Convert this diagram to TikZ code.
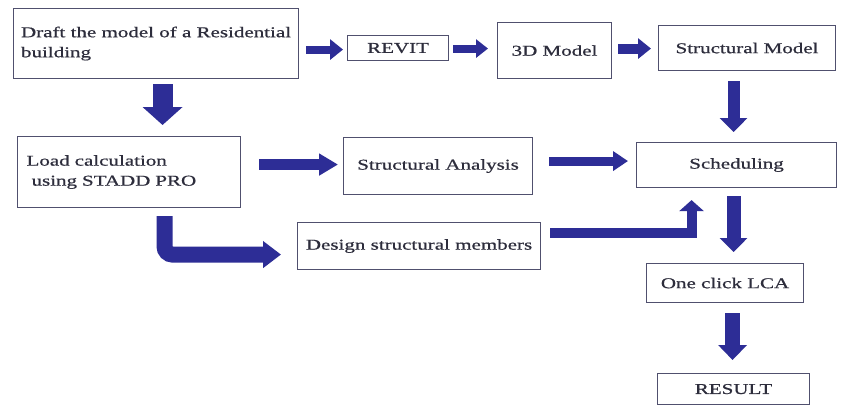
\documentclass[tikz,border=0pt]{standalone}
\usepackage{fontspec}
\setmainfont[FakeStretch=1.4, FakeBold=0.7]{Liberation Serif}
\usetikzlibrary{arrows.meta,calc}
\definecolor{arrowblue}{RGB}{45,45,150}
\definecolor{boxline}{RGB}{80,80,110}
\definecolor{txt}{RGB}{45,45,60}
\begin{document}
\begin{tikzpicture}[x=1pt,y=-1pt,
  box/.style={draw=boxline, line width=1.1pt, fill=white, text=txt,
    font=\fontsize{15}{20}\selectfont, anchor=north west, inner sep=0pt},
  blk/.style={draw=arrowblue, line width=#1, line join=miter}]
\fill[white] (0,0) rectangle (843,405);
\useasboundingbox (0,0) rectangle (843,405);

\node[box, minimum width=285pt, minimum height=70pt, align=left] (draft) at (13,8) {Draft the model of a Residential\\building};
\node[box, minimum width=101pt, minimum height=25pt] (revit) at (347,35) {REVIT};
\node[box, minimum width=114pt, minimum height=56pt] (m3d) at (497,22) {3D Model};
\node[box, minimum width=177pt, minimum height=45pt] (smodel) at (658,25) {Structural Model};
\node[box, minimum width=223pt, minimum height=71pt, align=left, text width=205pt, inner xsep=9pt] (load) at (17,136) {Load calculation\\\hspace*{5pt}using STADD PRO};
\node[box, minimum width=189pt, minimum height=57pt] (anal) at (343,137) {Structural Analysis};
\node[box, minimum width=200pt, minimum height=45pt] (sched) at (636,142) {Scheduling};
\node[box, minimum width=243pt, minimum height=47pt] (design) at (297,222) {Design structural members};
\node[box, minimum width=157pt, minimum height=39pt] (lca) at (646,263) {One click LCA};
\node[box, minimum width=152pt, minimum height=31pt] (result) at (657,373) {RESULT};

% top row arrows
\draw[blk=8pt, -{Triangle[width=20pt,length=13pt]}] ($(draft.east |- revit.west)+(7,1.5)$) -- ($(revit.west)+(-4,1.5)$);
\draw[blk=8pt, -{Triangle[width=18pt,length=12pt]}] ($(revit.east)+(4,0.5)$) -- ($(m3d.west |- revit.east)+(-9,0.5)$);
\draw[blk=10pt, -{Triangle[width=20pt,length=13pt]}] ($(m3d.east)+(6,-2)$) -- ($(smodel.west |- m3d.east)+(-7,-2)$);
% vertical arrows
\draw[blk=20pt, -{Triangle[width=39pt,length=18pt]}] ($(draft.south)+(6.5,5)$) -- ($(draft.south |- load.north)+(6.5,-11)$);
\draw[blk=12pt, -{Triangle[width=27pt,length=14pt]}] ($(sched.north |- smodel.south)+(-3,10)$) -- ($(sched.north)+(-3,-10)$);
\draw[blk=14pt, -{Triangle[width=27pt,length=14pt]}] ($(sched.south)+(-3,8)$) -- ($(sched.south |- lca.north)+(-3,-11)$);
\draw[blk=15pt, -{Triangle[width=28pt,length=15pt]}] ($(result.north |- lca.south)+(-1,10)$) -- ($(result.north)+(-1,-13)$);
% middle row arrows
\draw[blk=11pt, -{Triangle[width=21pt,length=19pt]}] ($(load.east |- anal.west)+(18,-1.5)$) -- ($(anal.west)+(-5,-1.5)$);
\draw[blk=9pt, -{Triangle[width=19pt,length=15pt]}] ($(anal.east)+(16,-5)$) -- ($(sched.west |- anal.east)+(-8,-5)$);
% bent arrows
\draw[blk=16pt, rounded corners=8pt, -{Triangle[width=26pt,length=18pt]}] ($(load.south)+(35.5,8)$) -- ($(load.south |- design.west)+(35.5,8.5)$) -- ($(design.west)+(-16,8.5)$);
\draw[blk=10pt, -{Triangle[width=24pt,length=11pt]}] ($(design.east)+(9,-13)$) -- ($(sched.south |- design.east)+(-45,-13)$) -- ($(sched.south)+(-45,12)$);
\end{tikzpicture}
\end{document}
